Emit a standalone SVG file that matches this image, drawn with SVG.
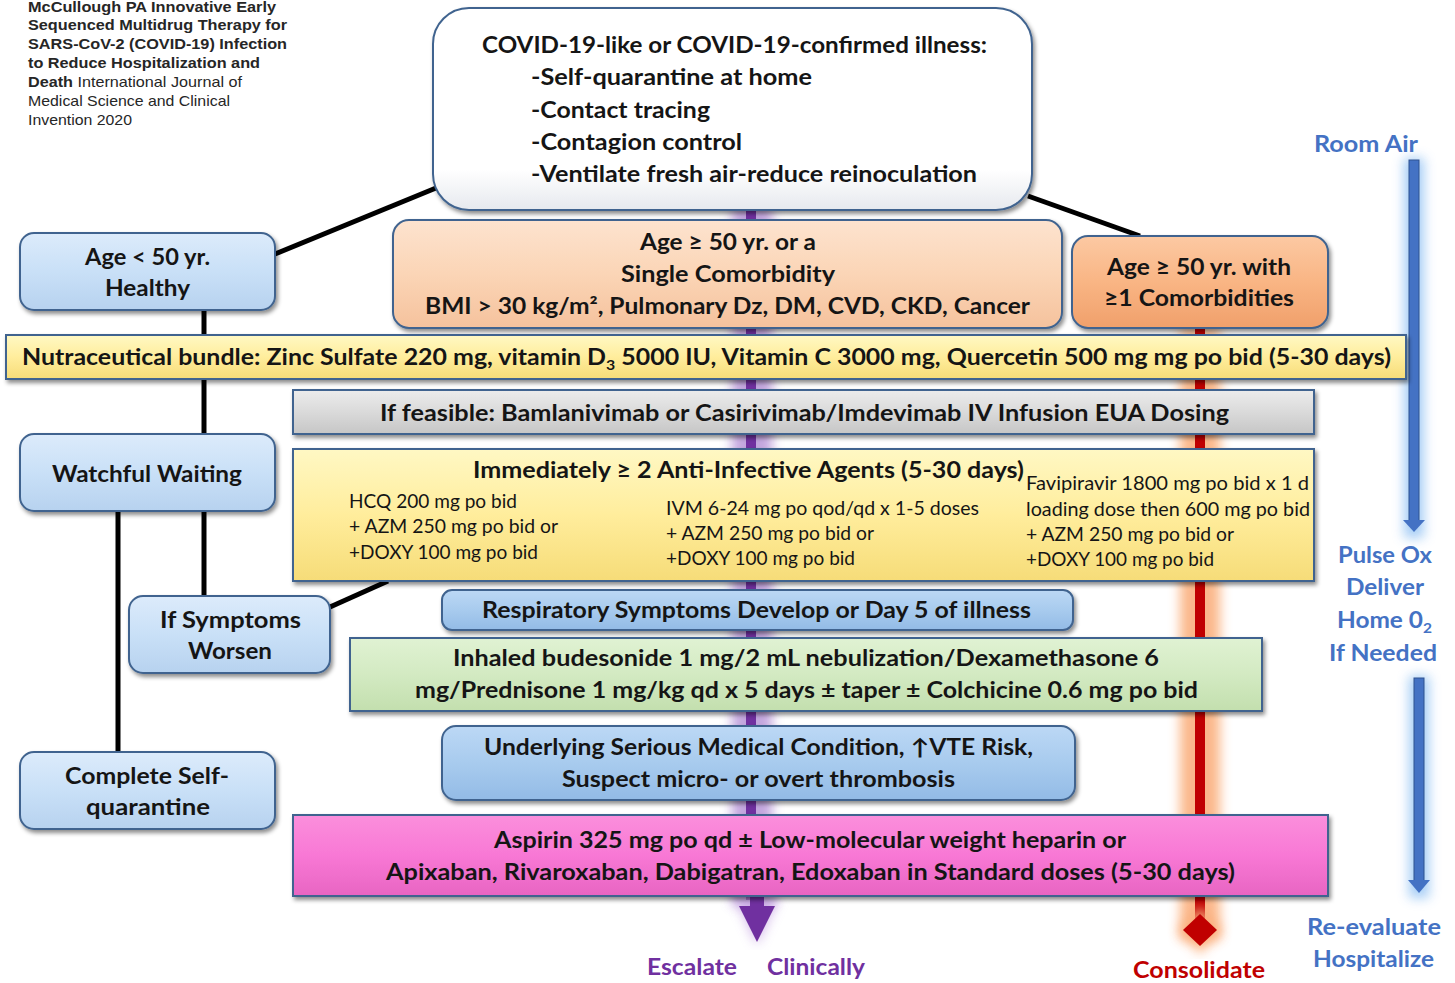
<svg xmlns="http://www.w3.org/2000/svg" width="1455" height="983" viewBox="0 0 1455 983">
<style>
.t{font-family:Lato,"Open Sans","DejaVu Sans",sans-serif;font-weight:bold;font-size:22px;fill:#151515}
.s{font-family:Lato,"Open Sans","DejaVu Sans",sans-serif;font-weight:normal;font-size:19px;fill:#151515}
.c{font-family:"Liberation Sans",Arial,sans-serif;font-size:15px;fill:#262626}
.cb{font-weight:bold}
.bl{font-family:Lato,"Open Sans",sans-serif;font-weight:bold;font-size:22px;fill:#4472c4}
.pu{font-family:Lato,"Open Sans",sans-serif;font-weight:bold;font-size:22px;fill:#7030a0}
.rd{font-family:Lato,"Open Sans",sans-serif;font-weight:bold;font-size:22px;fill:#c00000}
.box{stroke:#41648f;stroke-width:2;filter:url(#sh)}
.ln{stroke:#000;stroke-width:5;fill:none}
</style>
<defs>
<filter id="sh" x="-10%" y="-20%" width="120%" height="150%"><feDropShadow dx="2" dy="3" stdDeviation="2" flood-color="#000" flood-opacity="0.45"/></filter>
<filter id="blur" x="-100%" y="-10%" width="300%" height="120%"><feGaussianBlur stdDeviation="6"/></filter>
<linearGradient id="gW" x1="0" y1="0" x2="0" y2="1"><stop offset="0" stop-color="#ffffff"/><stop offset="0.8" stop-color="#ffffff"/><stop offset="1" stop-color="#e6e9ee"/></linearGradient>
<linearGradient id="gB" x1="0" y1="0" x2="0" y2="1"><stop offset="0" stop-color="#dcebfb"/><stop offset="0.5" stop-color="#c9e0f7"/><stop offset="1" stop-color="#b7d2ef"/></linearGradient>
<linearGradient id="gB2" x1="0" y1="0" x2="0" y2="1"><stop offset="0" stop-color="#bcd8f5"/><stop offset="0.5" stop-color="#a8cbee"/><stop offset="1" stop-color="#93bbe6"/></linearGradient>
<linearGradient id="gP" x1="0" y1="0" x2="0" y2="1"><stop offset="0" stop-color="#fde3cf"/><stop offset="0.5" stop-color="#fbd5b6"/><stop offset="1" stop-color="#f5c29d"/></linearGradient>
<linearGradient id="gO" x1="0" y1="0" x2="0" y2="1"><stop offset="0" stop-color="#fcc9a3"/><stop offset="0.5" stop-color="#f9b584"/><stop offset="1" stop-color="#f0a06b"/></linearGradient>
<linearGradient id="gY" x1="0" y1="0" x2="0" y2="1"><stop offset="0" stop-color="#fff8c4"/><stop offset="0.5" stop-color="#ffed9c"/><stop offset="1" stop-color="#f6dc78"/></linearGradient>
<linearGradient id="gG" x1="0" y1="0" x2="0" y2="1"><stop offset="0" stop-color="#ececec"/><stop offset="0.5" stop-color="#dadada"/><stop offset="1" stop-color="#c6c6c6"/></linearGradient>
<linearGradient id="gGr" x1="0" y1="0" x2="0" y2="1"><stop offset="0" stop-color="#e0f2d3"/><stop offset="0.5" stop-color="#d3eac2"/><stop offset="1" stop-color="#c3dfae"/></linearGradient>
<linearGradient id="gPk" x1="0" y1="0" x2="0" y2="1"><stop offset="0" stop-color="#fb8fdc"/><stop offset="0.5" stop-color="#f878d5"/><stop offset="1" stop-color="#e865c2"/></linearGradient>
</defs>

<g id="citation">
<text class="c cb" x="28" y="12" textLength="248" lengthAdjust="spacingAndGlyphs">McCullough PA Innovative Early</text>
<text class="c cb" x="28" y="30" textLength="259" lengthAdjust="spacingAndGlyphs">Sequenced Multidrug Therapy for</text>
<text class="c cb" x="28" y="49" textLength="259" lengthAdjust="spacingAndGlyphs">SARS-CoV-2 (COVID-19) Infection</text>
<text class="c cb" x="28" y="68" textLength="232" lengthAdjust="spacingAndGlyphs">to Reduce Hospitalization and</text>
<text class="c" x="28" y="87" textLength="214" lengthAdjust="spacingAndGlyphs"><tspan class="cb">Death</tspan> International Journal of</text>
<text class="c" x="28" y="106" textLength="202" lengthAdjust="spacingAndGlyphs">Medical Science and Clinical</text>
<text class="c" x="28" y="125" textLength="104" lengthAdjust="spacingAndGlyphs">Invention  2020</text>
</g>

<g id="connectors">
<line class="ln" x1="436" y1="188" x2="275" y2="254"/>
<line class="ln" x1="1028" y1="196" x2="1140" y2="236"/>
<line class="ln" x1="204" y1="310" x2="204" y2="335"/>
<line class="ln" x1="204" y1="379" x2="204" y2="434"/>
<line class="ln" x1="204" y1="511" x2="204" y2="596"/>
<line class="ln" x1="118" y1="511" x2="118" y2="752"/>
<line class="ln" x1="330" y1="607" x2="388" y2="581"/>
<rect x="732" y="205" width="40" height="700" fill="#b48fd6" opacity="0.8" filter="url(#blur)"/>
<rect x="746" y="205" width="10" height="695" fill="#7030a0"/>
<path d="M734,895 L780,895 L757,945 Z" fill="#c7a6e4" opacity="0.8" filter="url(#blur)"/>
<rect x="750" y="895" width="14" height="14" fill="#7030a0"/>
<path d="M739,906 L775,906 L757,942 Z" fill="#7030a0"/>
<rect x="1180" y="328" width="40" height="612" fill="#fbb07e" opacity="0.9" filter="url(#blur)"/>
<rect x="1195" y="328" width="10" height="592" fill="#c00000"/>
<path d="M1200,906 L1222,930 L1200,954 L1178,930 Z" fill="#fbb07e" opacity="0.9" filter="url(#blur)"/>
<path d="M1200,914 L1217,930 L1200,946 L1183,930 Z" fill="#c00000"/>
<rect x="1404" y="158" width="20" height="380" fill="#9cc8f5" opacity="0.9" filter="url(#blur)"/>
<rect x="1409" y="160" width="10" height="362" fill="#4472c4" stroke="#2f528f" stroke-width="1"/>
<path d="M1403,520 L1425,520 L1414,532 Z" fill="#4472c4"/>
<rect x="1409" y="676" width="20" height="222" fill="#9cc8f5" opacity="0.9" filter="url(#blur)"/>
<rect x="1414" y="678" width="10" height="203" fill="#4472c4" stroke="#2f528f" stroke-width="1"/>
<path d="M1408,880 L1430,880 L1419,893 Z" fill="#4472c4"/>
</g>

<g id="n-top">
<rect class="box" x="433" y="8" width="599" height="202" rx="36" fill="url(#gW)"/>
<text class="t" x="482" y="53" textLength="505" lengthAdjust="spacingAndGlyphs">COVID-19-like or COVID-19-confirmed illness:</text>
<text class="t" x="531" y="85" textLength="281" lengthAdjust="spacingAndGlyphs">-Self-quarantine at home</text>
<text class="t" x="531" y="118" textLength="179" lengthAdjust="spacingAndGlyphs">-Contact tracing</text>
<text class="t" x="531" y="150" textLength="211" lengthAdjust="spacingAndGlyphs">-Contagion control</text>
<text class="t" x="531" y="182" textLength="446" lengthAdjust="spacingAndGlyphs">-Ventilate fresh air-reduce reinoculation</text>
</g>

<g id="n-age-lt50">
<rect class="box" x="20" y="233" width="255" height="77" rx="14" fill="url(#gB)"/>
<text class="t" x="85" y="265" textLength="125" lengthAdjust="spacingAndGlyphs">Age &lt; 50 yr.</text>
<text class="t" x="105" y="296" textLength="85" lengthAdjust="spacingAndGlyphs">Healthy</text>
</g>

<g id="n-age-single">
<rect class="box" x="393" y="220" width="669" height="108" rx="16" fill="url(#gP)"/>
<text class="t" x="640" y="250" textLength="176" lengthAdjust="spacingAndGlyphs">Age ≥ 50 yr. or a</text>
<text class="t" x="621" y="282" textLength="214" lengthAdjust="spacingAndGlyphs">Single Comorbidity</text>
<text class="t" x="425" y="314" textLength="605" lengthAdjust="spacingAndGlyphs">BMI &gt; 30 kg/m², Pulmonary Dz, DM, CVD, CKD, Cancer</text>
</g>

<g id="n-age-multi">
<rect class="box" x="1072" y="236" width="256" height="92" rx="16" fill="url(#gO)"/>
<text class="t" x="1107" y="275" textLength="184" lengthAdjust="spacingAndGlyphs">Age ≥ 50 yr. with</text>
<text class="t" x="1104" y="306" textLength="190" lengthAdjust="spacingAndGlyphs">≥1 Comorbidities</text>
</g>

<g id="n-nutra">
<rect class="box" x="6" y="335" width="1400" height="44" fill="url(#gY)"/>
<text class="t" x="22" y="365" textLength="1369" lengthAdjust="spacingAndGlyphs">Nutraceutical bundle: Zinc Sulfate 220 mg, vitamin D<tspan font-size="14" dy="5">3</tspan><tspan dy="-5"> 5000 IU, Vitamin C 3000 mg, Quercetin 500 mg mg po bid (5-30 days)</tspan></text>
</g>

<g id="n-mab">
<rect class="box" x="293" y="390" width="1021" height="44" fill="url(#gG)"/>
<text class="t" x="380" y="421" textLength="849" lengthAdjust="spacingAndGlyphs">If feasible:  Bamlanivimab or Casirivimab/Imdevimab IV Infusion EUA Dosing</text>
</g>

<g id="n-watch">
<rect class="box" x="20" y="434" width="255" height="77" rx="14" fill="url(#gB)"/>
<text class="t" x="52" y="482" textLength="190" lengthAdjust="spacingAndGlyphs">Watchful Waiting</text>
</g>

<g id="n-anti">
<rect class="box" x="293" y="449" width="1021" height="132" fill="url(#gY)"/>
<text class="t" x="473" y="478" textLength="551" lengthAdjust="spacingAndGlyphs">Immediately ≥ 2 Anti-Infective Agents (5-30 days)</text>
<text class="s" x="349" y="508" textLength="168" lengthAdjust="spacingAndGlyphs">HCQ 200 mg po bid</text>
<text class="s" x="349" y="533" textLength="209" lengthAdjust="spacingAndGlyphs">+ AZM 250 mg po bid or</text>
<text class="s" x="349" y="559" textLength="189" lengthAdjust="spacingAndGlyphs">+DOXY 100 mg po bid</text>
<text class="s" x="666" y="515" textLength="313" lengthAdjust="spacingAndGlyphs">IVM 6-24 mg po qod/qd x 1-5 doses</text>
<text class="s" x="666" y="540" textLength="208" lengthAdjust="spacingAndGlyphs">+ AZM 250 mg po bid or</text>
<text class="s" x="666" y="565" textLength="189" lengthAdjust="spacingAndGlyphs">+DOXY 100 mg po bid</text>
<text class="s" x="1026" y="490" textLength="283" lengthAdjust="spacingAndGlyphs">Favipiravir 1800 mg  po bid  x 1 d</text>
<text class="s" x="1026" y="516" textLength="284" lengthAdjust="spacingAndGlyphs">loading dose then 600  mg po bid</text>
<text class="s" x="1026" y="541" textLength="208" lengthAdjust="spacingAndGlyphs">+ AZM 250 mg po bid or</text>
<text class="s" x="1026" y="566" textLength="188" lengthAdjust="spacingAndGlyphs">+DOXY 100 mg po bid</text>
</g>

<g id="n-worsen">
<rect class="box" x="129" y="596" width="201" height="77" rx="14" fill="url(#gB)"/>
<text class="t" x="160" y="628" textLength="141" lengthAdjust="spacingAndGlyphs">If Symptoms</text>
<text class="t" x="188" y="659" textLength="84" lengthAdjust="spacingAndGlyphs">Worsen</text>
</g>

<g id="n-resp">
<rect class="box" x="442" y="590" width="631" height="40" rx="10" fill="url(#gB2)"/>
<text class="t" x="482" y="618" textLength="549" lengthAdjust="spacingAndGlyphs">Respiratory Symptoms Develop or Day 5 of illness</text>
</g>

<g id="n-steroid">
<rect class="box" x="350" y="638" width="912" height="73" fill="url(#gGr)"/>
<text class="t" x="453" y="666" textLength="706" lengthAdjust="spacingAndGlyphs">Inhaled budesonide 1 mg/2 mL nebulization/Dexamethasone 6</text>
<text class="t" x="415" y="698" textLength="783" lengthAdjust="spacingAndGlyphs">mg/Prednisone 1 mg/kg qd x 5 days ± taper ± Colchicine 0.6 mg po bid</text>
</g>

<g id="n-underlying">
<rect class="box" x="442" y="726" width="633" height="74" rx="14" fill="url(#gB2)"/>
<text class="t" x="484" y="755" textLength="549" lengthAdjust="spacingAndGlyphs">Underlying Serious Medical Condition, ↑VTE Risk,</text>
<text class="t" x="562" y="787" textLength="393" lengthAdjust="spacingAndGlyphs">Suspect micro- or overt thrombosis</text>
</g>

<g id="n-complete">
<rect class="box" x="20" y="752" width="255" height="77" rx="14" fill="url(#gB)"/>
<text class="t" x="65" y="784" textLength="164" lengthAdjust="spacingAndGlyphs">Complete Self-</text>
<text class="t" x="86" y="815" textLength="124" lengthAdjust="spacingAndGlyphs">quarantine</text>
</g>

<g id="n-anticoag">
<rect class="box" x="293" y="815" width="1035" height="81" fill="url(#gPk)"/>
<text class="t" x="494" y="848" textLength="632" lengthAdjust="spacingAndGlyphs">Aspirin 325 mg po qd ± Low-molecular weight heparin or</text>
<text class="t" x="386" y="880" textLength="849" lengthAdjust="spacingAndGlyphs">Apixaban, Rivaroxaban, Dabigatran, Edoxaban in Standard doses (5-30 days)</text>
</g>

<g id="labels">
<text class="bl" x="1314" y="152" textLength="104" lengthAdjust="spacingAndGlyphs">Room Air</text>
<text class="bl" x="1338" y="563" textLength="94" lengthAdjust="spacingAndGlyphs">Pulse Ox</text>
<text class="bl" x="1346" y="595" textLength="78" lengthAdjust="spacingAndGlyphs">Deliver</text>
<text class="bl" x="1337" y="628" textLength="95" lengthAdjust="spacingAndGlyphs">Home 0<tspan font-size="14" dy="5">2</tspan></text>
<text class="bl" x="1329" y="661" textLength="108" lengthAdjust="spacingAndGlyphs">If Needed</text>
<text class="bl" x="1307" y="935" textLength="134" lengthAdjust="spacingAndGlyphs">Re-evaluate</text>
<text class="bl" x="1313" y="967" textLength="121" lengthAdjust="spacingAndGlyphs">Hospitalize</text>
<text class="pu" x="647" y="975" textLength="90" lengthAdjust="spacingAndGlyphs">Escalate</text>
<text class="pu" x="767" y="975" textLength="98" lengthAdjust="spacingAndGlyphs">Clinically</text>
<text class="rd" x="1133" y="978" textLength="132" lengthAdjust="spacingAndGlyphs">Consolidate</text>
</g>
</svg>
